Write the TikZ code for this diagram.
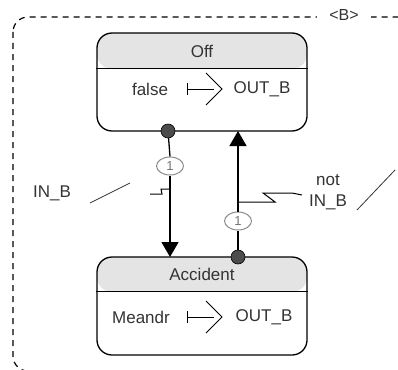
\documentclass[tikz,border=0pt]{standalone}
\usepackage{fontspec}
\setmainfont{Liberation Sans}
\usetikzlibrary{arrows.meta,shapes.geometric}
\definecolor{hdr}{HTML}{E4E4E4}
\definecolor{ink}{HTML}{333333}
\begin{document}
\begin{tikzpicture}[x=1pt,y=-1pt,
  statebox/.style={draw=black, line width=1.3pt, rounded corners=15pt,
    minimum width=210pt, minimum height=98pt, inner sep=0pt,
    path picture={\fill[hdr] (path picture bounding box.north west) rectangle
      ([yshift=-#1]path picture bounding box.north east);}},
  txt/.style={font=\fontsize{17}{19}\selectfont, text=ink, inner sep=0pt},
  smalltxt/.style={font=\fontsize{16}{18}\selectfont, text=ink, inner sep=1pt},
  dotnode/.style={circle, fill=black!70, draw=black, line width=0.6pt,
    minimum size=14pt, inner sep=0pt},
  prio/.style={ellipse, draw=black!45, line width=1pt, minimum width=27pt,
    minimum height=18pt, inner sep=0pt, font=\fontsize{13}{14}\selectfont,
    text=black!55, fill=white},
  trans/.style={draw=black, line width=1.3pt},
  bolt/.style={draw=black, line width=1pt},
  slashline/.style={draw=ink, line width=0.8pt},
  arr/.style={-{Triangle[width=17pt,length=15pt]}},
  emit/.pic={
    \draw[line width=1pt] (0,-6) -- (0,6);
    \draw[line width=1pt] (0,0) -- (27,0);
    \draw[line width=0.9pt] (19,-16) -- (35,0) -- (19,16);
  }]
\useasboundingbox (0,0) rectangle (398,369);
% outer dashed region
\begin{scope}
  \clip (0,0) rectangle (398,369);
  \draw[line width=1.2pt, dash pattern=on 6pt off 5pt, rounded corners=15pt]
    (13,17) rectangle (430,371);
\end{scope}
\node[smalltxt, fill=white, inner xsep=12pt] (blabel) at (344,15) {<B>};
% states
\node[statebox=36pt] (off) at (202,82) {};
\draw[line width=1.2pt] ([yshift=-36pt]off.north west) -- ([yshift=-36pt]off.north east);
\node[txt] (offname) at (202,51) {Off};
\node[txt] (offval) at (150,89) {false};
\pic at (187,89) {emit};
\node[txt] (offout) at (262,89) {OUT\_B};

\node[statebox=35pt] (acc) at (202,306) {};
\draw[line width=1.2pt] ([yshift=-35pt]acc.north west) -- ([yshift=-35pt]acc.north east);
\node[txt] (accname) at (202,274) {Accident};
\node[txt] (accval) at (141,317) {Meandr};
\pic at (187,317) {emit};
\node[txt] (accout) at (264,317) {OUT\_B};

% left transition Off -> Accident
\node[prio] (p1) at (170,166) {1};
\coordinate (bl) at (170,189);
\draw[trans] (168,131) -- (p1.north);
\draw[trans] (p1.south) -- (bl);
\draw[bolt] (bl) -- (161,189) -- (162,194) -- (150,194);
\draw[trans, arr] (bl) -- (170,257);
\node[dotnode] (d1) at (168,131) {};

% right transition Accident -> Off
\node[prio] (p2) at (238,221) {1};
\coordinate (br) at (238,202);
\draw[trans] (238,257) -- (p2.south);
\draw[trans] (p2.north) -- (br);
\draw[trans, arr] (br) -- (238,131);
\draw[bolt] (br) -- (275,202) -- (263,193) -- (292,193) -- (302,195);
\node[dotnode] (d2) at (238,257) {};

% trigger labels
\node[txt] (lin) at (52,193) {IN\_B};
\draw[slashline] (90,203) -- (130,183);
\node[txt] (rnot) at (328,180) {not};
\node[txt] (rin) at (328,202) {IN\_B};
\draw[slashline] (357,210) -- (395,170);
\end{tikzpicture}
\end{document}
